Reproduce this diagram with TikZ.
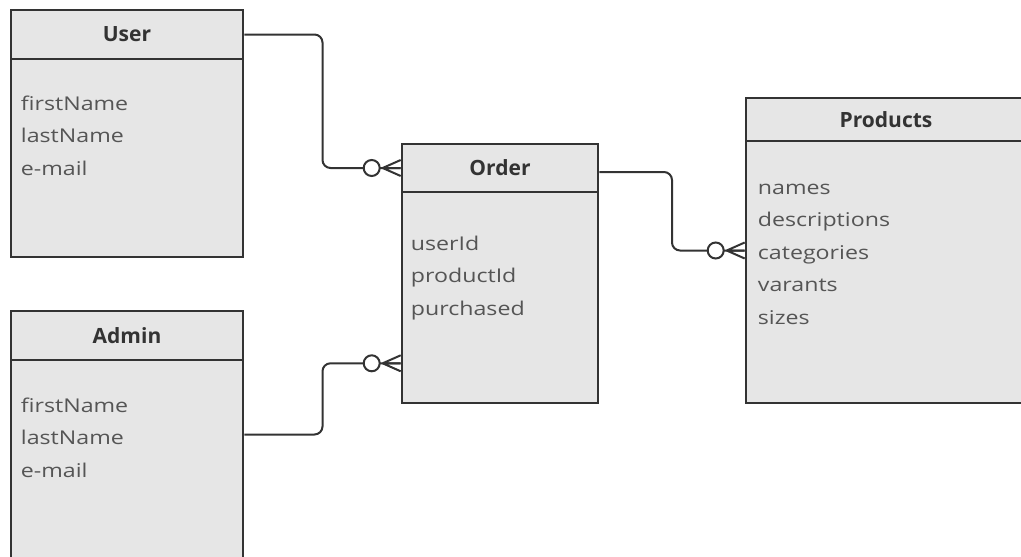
\documentclass[tikz,border=0pt]{standalone}
\usepackage{fontspec}
\setmainfont{Open Sans}
\newfontfamily\fieldfont[FakeStretch=1.22]{Open Sans}
\usetikzlibrary{positioning, calc}
\definecolor{boxfill}{HTML}{E6E6E6}
\definecolor{boxline}{HTML}{333333}
\definecolor{fieldtext}{HTML}{555555}
\tikzset{
	x=1pt, y=-1pt,
	entity/.style={draw=boxline,line width=2.6pt,fill=boxfill,inner sep=0pt},
	head/.style={draw=boxline,line width=2.6pt,fill=boxfill,anchor=north,inner sep=0pt,
		font=\fontsize{21}{25}\selectfont\bfseries,text=boxline},
	fields/.style={anchor=north west,align=left,inner sep=0pt,
		font=\fieldfont\fontsize{19}{32.5}\selectfont,text=fieldtext},
	rel/.style={draw=boxline,line width=2pt,rounded corners=8pt},
	zeromany/.pic={
		\draw[boxline,line width=2pt] (-18,0) -- (0,-8) (-18,0) -- (0,0) (-18,0) -- (0,8);
		\draw[boxline,line width=2pt,fill=white] (-29,0) circle (8);
	},
}

\begin{document}
\begin{tikzpicture}
		\useasboundingbox (0,0) rectangle (1021,557);
		\clip (0,0) rectangle (1021,557);
		% tables
		\node[entity, minimum width=232pt, minimum height=247pt] (user) at (127,133.5) {};
		\node[head, minimum width=232pt, minimum height=49pt] (user-head) at (user.north) {User};
		\node[fields] (user-fields) at ($(user-head.south west)+(11,27)$) {\strut firstName\\lastName\\e-mail};
		%
		\node[entity, minimum width=232pt, minimum height=247pt] (admin) at (127,434.5) {};
		\node[head, minimum width=232pt, minimum height=49pt] (admin-head) at (admin.north) {Admin};
		\node[fields] (admin-fields) at ($(admin-head.south west)+(11,28)$) {\strut firstName\\lastName\\e-mail};
		%
		\node[entity, minimum width=196pt, minimum height=259pt] (order) at (500,273.5) {};
		\node[head, minimum width=196pt, minimum height=48pt] (order-head) at (order.north) {Order};
		\node[fields] (order-fields) at ($(order-head.south west)+(10,34)$) {\strut userId\\productId\\purchased};
		%
		\node[entity, minimum width=280pt, minimum height=305pt] (products) at (886,250.5) {};
		\node[head, minimum width=280pt, minimum height=43pt] (products-head) at (products.north) {Products};
		\node[fields] (products-fields) at ($(products-head.south west)+(13,29)$) {\strut names\\descriptions\\categories\\varants\\sizes};
		%
		\coordinate (order-in) at ($(order.south west)+(0,-41)$);
		\coordinate (order-out) at ($(order-head.east)+(0,4)$);
		% relations
		\draw[rel] (user-head.east) -| ($(user-head.east)!.5!(order-head.west)$) |- (order-head.west);
		\draw[rel] (admin.east) -| ($(admin.east)!.5!(order-in)$) |- (order-in);
		\draw[rel] (order-out) -| ($(order-out)!.5!(products.west)$) |- (products.west);
		\pic at (order-head.west) {zeromany};
		\pic at (order-in) {zeromany};
		\pic at (products.west) {zeromany};
\end{tikzpicture}
\end{document}
